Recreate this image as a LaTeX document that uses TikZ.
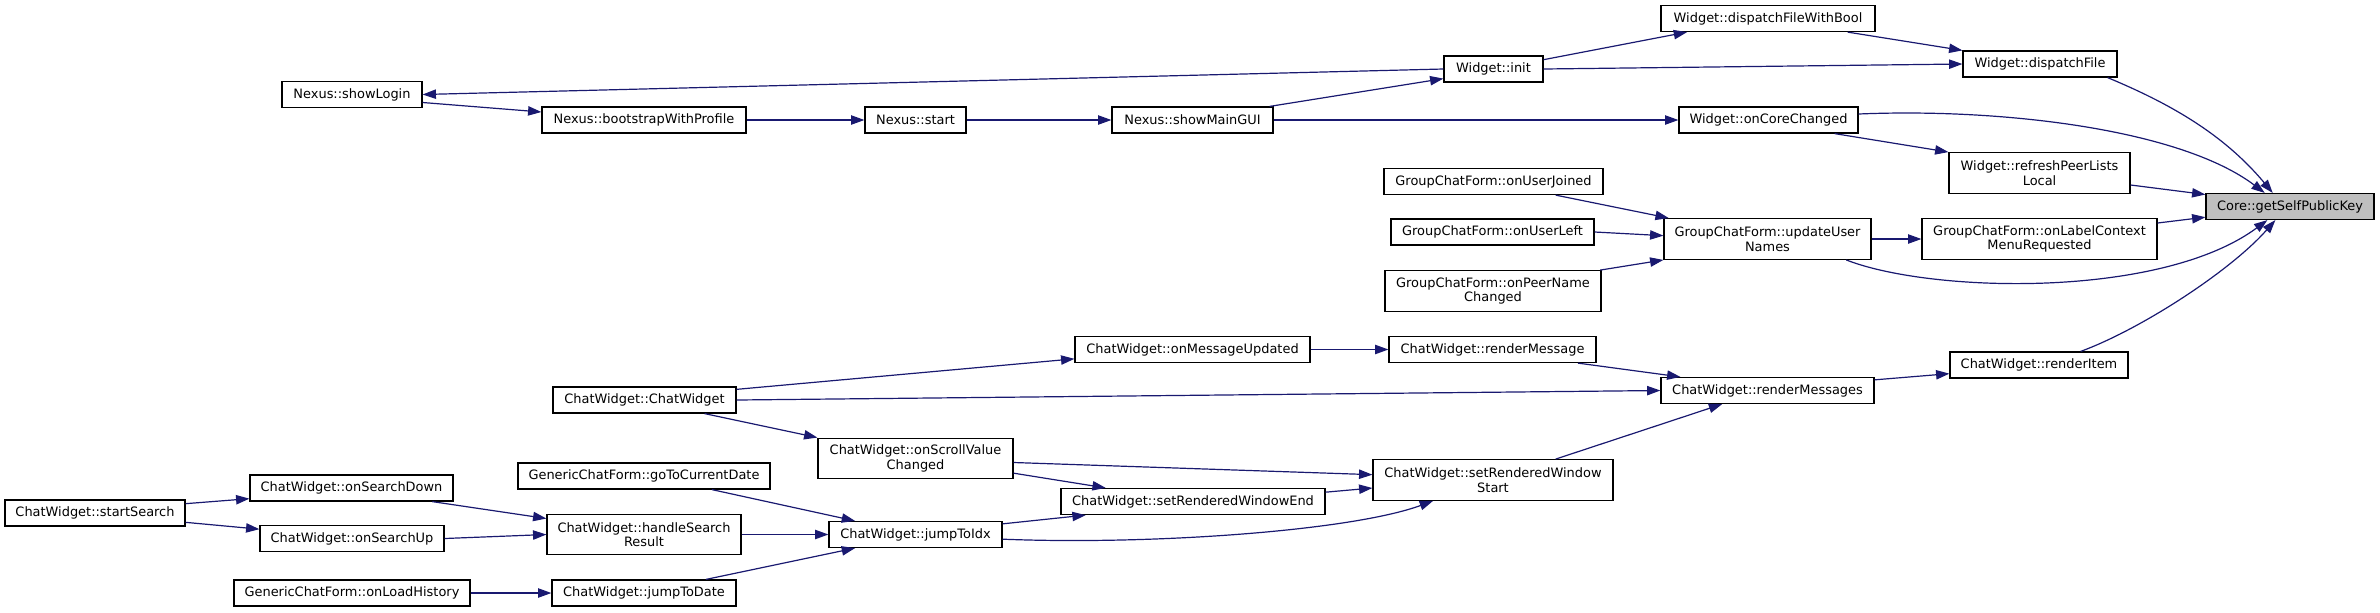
\documentclass[tikz,border=0pt]{standalone}
\usepackage{fontspec}
\setmainfont{DejaVu Sans}
\usepackage{tikz}
\usetikzlibrary{arrows.meta,positioning}
\usepackage{xcolor}
\definecolor{edgeblue}{HTML}{191970}
\definecolor{rootgray}{HTML}{BFBFBF}

\begin{document}
\begin{tikzpicture}[
  x=0.75pt, y=-0.75pt,
  fn/.style={rectangle, draw=black, line width=0.9pt, fill=white, inner sep=0pt,
    minimum height=19.5pt, align=center, font=\fontsize{9.7}{10.8}\selectfont},
  fntwo/.style={fn, minimum height=30.5pt},
  calls/.style={draw=edgeblue, line width=0.9pt, -{Triangle[length=10pt,width=7pt]}}
]
\useasboundingbox (0,0) rectangle (2380,612);

% ==================
% Root
% ==================
\node[fn, fill=rootgray, minimum width=126pt] (gspk) at (2290,206.5) {Core::getSelfPublicKey};

% ==================
% Widget / Nexus chain
% ==================
\node[fn, minimum width=105pt] (showLogin) at (352,94.5) {Nexus::showLogin};
\node[fn, minimum width=153pt] (bootstrap) at (644,120) {Nexus::bootstrapWithProfile};
\node[fn, minimum width=75.75pt] (start) at (915.5,120) {Nexus::start};
\node[fn, minimum width=120.75pt] (mainGUI) at (1192.5,120) {Nexus::showMainGUI};
\node[fn, minimum width=74.25pt] (init) at (1493.5,69) {Widget::init};
\node[fn, minimum width=160.5pt] (dfwb) at (1768,18.5) {Widget::dispatchFileWithBool};
\node[fn, minimum width=115.5pt] (dfile) at (2040,64) {Widget::dispatchFile};
\node[fn, minimum width=134.25pt] (coreChanged) at (1768.5,120) {Widget::onCoreChanged};
\node[fntwo, minimum width=135.75pt] (refresh) at (2039.5,173) {Widget::refreshPeerLists\\Local};

% ==================
% GroupChatForm
% ==================
\node[fn, minimum width=164.25pt] (userJoined) at (1493.5,181.5) {GroupChatForm::onUserJoined};
\node[fn, minimum width=152.25pt] (userLeft) at (1492.5,232) {GroupChatForm::onUserLeft};
\node[fntwo, minimum width=162pt] (peerName) at (1493,291) {GroupChatForm::onPeerName\\Changed};
\node[fntwo, minimum width=155.25pt] (updNames) at (1767.5,239) {GroupChatForm::updateUser\\Names};
\node[fntwo, minimum width=176.25pt] (labelMenu) at (2039.5,239) {GroupChatForm::onLabelContext\\MenuRequested};

% ==================
% ChatWidget rendering
% ==================
\node[fn, minimum width=176.25pt] (msgUpd) at (1192.5,349.5) {ChatWidget::onMessageUpdated};
\node[fn, minimum width=155.25pt] (renderMsg) at (1492.5,349.5) {ChatWidget::renderMessage};
\node[fn, minimum width=137.25pt] (ctor) at (644.5,400) {ChatWidget::ChatWidget};
\node[fn, minimum width=159.75pt] (renderMsgs) at (1767.5,390.5) {ChatWidget::renderMessages};
\node[fn, minimum width=133.5pt] (renderItem) at (2039,365) {ChatWidget::renderItem};
\node[fntwo, minimum width=146.25pt] (scroll) at (915.5,458.5) {ChatWidget::onScrollValue\\Changed};
\node[fntwo, minimum width=180pt] (winStart) at (1493,480) {ChatWidget::setRenderedWindow\\Start};
\node[fn, minimum width=198pt] (winEnd) at (1193,501.5) {ChatWidget::setRenderedWindowEnd};

% ==================
% Search / jumping
% ==================
\node[fn, minimum width=189pt] (curDate) at (644,476) {GenericChatForm::goToCurrentDate};
\node[fn, minimum width=135pt] (startSearch) at (95,513) {ChatWidget::startSearch};
\node[fn, minimum width=152.25pt] (searchDown) at (351.5,488) {ChatWidget::onSearchDown};
\node[fn, minimum width=138pt] (searchUp) at (352,538.5) {ChatWidget::onSearchUp};
\node[fntwo, minimum width=145.5pt] (searchRes) at (644,534.5) {ChatWidget::handleSearch\\Result};
\node[fn, minimum width=129.75pt] (jumpIdx) at (915.5,534.5) {ChatWidget::jumpToIdx};
\node[fn, minimum width=177pt] (loadHist) at (352,593) {GenericChatForm::onLoadHistory};
\node[fn, minimum width=138pt] (jumpDate) at (644,593) {ChatWidget::jumpToDate};

% ==================
% Calls, upper part
% ==================
\draw[calls] ([yshift=-6pt]showLogin.east) -- ([yshift=6pt]bootstrap.west);
\draw[calls] (init.west) -- (showLogin.east);
\draw[calls] (bootstrap) -- (start);
\draw[calls] (start) -- (mainGUI);
\draw[calls] ([xshift=-3pt]mainGUI.north east) -- ([yshift=3pt]init.south west);
\draw[calls] (mainGUI) -- (coreChanged);
\draw[calls] ([yshift=7pt]init.east) -- ([xshift=20pt]dfwb.south west);
\draw[calls] (init.east) -- (dfile.west);
\draw[calls] ([xshift=-21pt]dfwb.south east) -- (dfile.north west);
\draw[calls] ([xshift=-7.5pt]dfile.south east) .. controls +(60,25) and +(-50,-60) .. ([xshift=-13pt]gspk.north);
\draw[calls] ([yshift=4.5pt]coreChanged.east) .. controls +(142,-6) and +(-85,-64) .. ([xshift=-19pt]gspk.north);
\draw[calls] ([xshift=-18pt]coreChanged.south east) -- (refresh.north west);
\draw[calls] ([yshift=-9pt]refresh.east) -- ([yshift=9pt]gspk.west);

% GroupChatForm
\draw[calls] ([xshift=-36pt]userJoined.south east) -- ([xshift=4pt]updNames.north west);
\draw[calls] (userLeft.east) -- ([yshift=2.5pt]updNames.west);
\draw[calls] ([xshift=-1pt]peerName.north east) -- (updNames.south west);
\draw[calls] (updNames) -- (labelMenu);
\draw[calls] ([yshift=12pt]labelMenu.east) -- ([yshift=-8pt]gspk.west);
\draw[calls] ([xshift=-19pt]updNames.south east) .. controls +(84,33) and +(-107,79) .. ([xshift=-17pt]gspk.south);

% ==================
% Calls, lower part
% ==================
\draw[calls] ([xshift=-36pt]renderItem.north east) .. controls +(60,-22) and +(-45,51) .. ([xshift=-11pt]gspk.south);
\draw[calls] ([yshift=8pt]ctor.east) -- ([yshift=-7pt]msgUpd.west);
\draw[calls] (msgUpd) -- (renderMsg);
\draw[calls] ([xshift=-14pt]renderMsg.south east) -- ([xshift=15pt]renderMsgs.north west);
\draw[calls] (ctor.east) -- (renderMsgs.west);
\draw[calls] ([xshift=-24pt]ctor.south east) -- (scroll.north west);
\draw[calls] ([yshift=8pt]renderMsgs.east) -- ([yshift=-6.5pt]renderItem.west);
\draw[calls] ([yshift=-3pt]scroll.east) -- ([yshift=4pt]winStart.west);
\draw[calls] ([yshift=-11pt]scroll.east) -- ([xshift=34pt]winEnd.north west);
\draw[calls] ([yshift=7pt]winEnd.east) -- ([yshift=-6pt]winStart.west);
\draw[calls] ([xshift=47pt]winStart.north) -- ([xshift=-34pt]renderMsgs.south);
\draw[calls] ([yshift=8pt]jumpIdx.east) -- ([xshift=19pt]winEnd.south west);
\draw[calls] ([yshift=-3.5pt]jumpIdx.east) .. controls +(148,6) and +(-82,30) .. ([xshift=-45pt]winStart.south);

% search and jumps
\draw[calls] ([xshift=-44pt]curDate.south east) -- ([xshift=20pt]jumpIdx.north west);
\draw[calls] ([yshift=7pt]startSearch.east) -- ([yshift=-8pt]searchDown.west);
\draw[calls] ([yshift=-7pt]startSearch.east) -- ([yshift=7pt]searchUp.west);
\draw[calls] ([xshift=-16pt]searchDown.south east) -- ([yshift=12pt]searchRes.west);
\draw[calls] (searchUp.east) -- (searchRes.west);
\draw[calls] (searchRes) -- (jumpIdx);
\draw[calls] (loadHist) -- (jumpDate);
\draw[calls] ([xshift=-23pt]jumpDate.north east) -- ([xshift=20pt]jumpIdx.south west);
\end{tikzpicture}
\end{document}
